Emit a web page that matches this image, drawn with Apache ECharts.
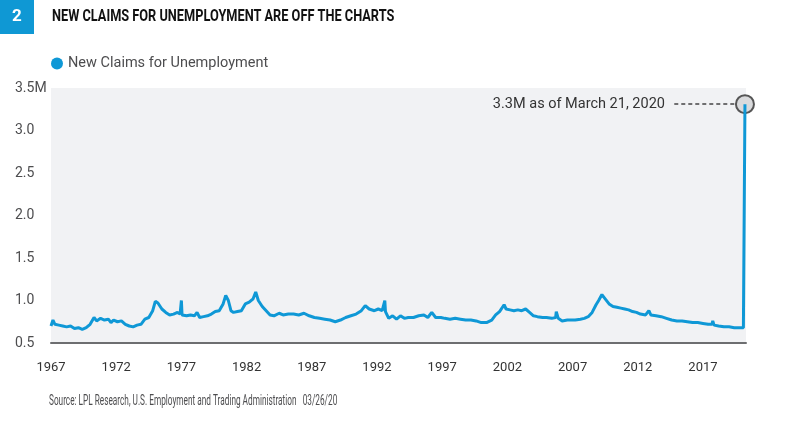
<!DOCTYPE html>
<html>
<head>
<meta charset="utf-8">
<script src="https://cdn.jsdelivr.net/npm/echarts@6/dist/echarts.min.js"></script>
<style>html,body{margin:0;padding:0;background:#fff}#c{width:788px;height:448px}</style>
</head>
<body>
<div id="c"></div>
<script>
var FONT = 'Roboto,"Liberation Sans",sans-serif';
var BASE_YEAR = 1967;
var years = [1967.0,1967.15,1967.3,1967.6,1967.9,1968.2,1968.5,1968.8,1969.1,1969.4,1969.7,1970.0,1970.3,1970.5,1970.8,1971.1,1971.4,1971.6,1971.8,1972.1,1972.4,1972.7,1973.0,1973.3,1973.6,1973.9,1974.2,1974.5,1974.8,1975.0,1975.2,1975.5,1975.8,1976.1,1976.4,1976.7,1976.9,1977.0,1977.05,1977.4,1977.7,1978.0,1978.2,1978.4,1978.7,1979.0,1979.3,1979.6,1979.9,1980.2,1980.4,1980.6,1980.8,1981.0,1981.3,1981.6,1981.9,1982.2,1982.5,1982.7,1982.9,1983.2,1983.5,1983.8,1984.1,1984.5,1984.8,1985.2,1985.6,1986.0,1986.4,1986.8,1987.2,1987.6,1988.0,1988.4,1988.8,1989.2,1989.6,1990.0,1990.4,1990.8,1991.1,1991.4,1991.8,1992.1,1992.4,1992.6,1992.65,1992.9,1993.2,1993.5,1993.8,1994.1,1994.4,1994.8,1995.2,1995.6,1995.9,1996.2,1996.5,1996.9,1997.2,1997.6,1998.0,1998.4,1998.8,1999.2,1999.6,2000.0,2000.4,2000.8,2001.1,2001.4,2001.75,2001.9,2002.2,2002.5,2002.8,2003.1,2003.4,2003.7,2004.0,2004.3,2004.7,2005.0,2005.4,2005.7,2005.75,2005.9,2006.2,2006.6,2006.9,2007.2,2007.6,2007.9,2008.2,2008.5,2008.8,2009.0,2009.25,2009.5,2009.8,2010.1,2010.4,2010.7,2011.0,2011.3,2011.6,2011.9,2012.2,2012.6,2012.85,2013.0,2013.4,2013.8,2014.2,2014.6,2015.0,2015.4,2015.8,2016.2,2016.6,2017.0,2017.4,2017.7,2017.75,2017.85,2018.2,2018.6,2019.0,2019.4,2019.8,2020.1,2020.18,2020.22];
var claims = [0.70,0.77,0.72,0.71,0.70,0.69,0.70,0.67,0.68,0.66,0.68,0.72,0.80,0.76,0.79,0.77,0.78,0.74,0.77,0.75,0.76,0.72,0.70,0.69,0.71,0.72,0.78,0.80,0.88,0.99,0.97,0.90,0.86,0.83,0.84,0.86,0.84,1.00,0.83,0.82,0.83,0.82,0.86,0.80,0.81,0.82,0.84,0.87,0.88,0.96,1.06,1.00,0.88,0.86,0.87,0.88,0.96,0.98,1.02,1.10,1.00,0.93,0.88,0.83,0.82,0.85,0.83,0.84,0.84,0.83,0.85,0.82,0.80,0.79,0.78,0.77,0.75,0.77,0.80,0.82,0.84,0.88,0.94,0.90,0.88,0.90,0.88,1.00,0.87,0.79,0.82,0.78,0.82,0.79,0.80,0.80,0.82,0.83,0.80,0.86,0.80,0.80,0.79,0.78,0.79,0.78,0.77,0.77,0.76,0.74,0.74,0.77,0.83,0.87,0.95,0.90,0.89,0.88,0.89,0.88,0.90,0.86,0.82,0.81,0.80,0.80,0.79,0.80,0.87,0.79,0.76,0.77,0.77,0.77,0.78,0.79,0.81,0.86,0.95,1.00,1.07,1.02,0.96,0.93,0.92,0.91,0.90,0.89,0.87,0.86,0.84,0.83,0.88,0.83,0.82,0.81,0.79,0.77,0.76,0.76,0.75,0.74,0.74,0.73,0.72,0.72,0.76,0.71,0.70,0.69,0.69,0.68,0.68,0.68,0.70,3.31];
var xTickYears = [1967,1972,1977,1982,1987,1992,1997,2002,2007,2012,2017];
var yTicks = [0.5,1.0,1.5,2.0,2.5,3.0,3.5];
var seriesName = 'New Claims for Unemployment';
var titleText = 'NEW CLAIMS FOR UNEMPLOYMENT ARE OFF THE CHARTS';
var sourceText = 'Source: LPL Research, U.S. Employment and Trading Administration   03/26/20';
var annotText = '3.3M as of March 21, 2020';
var annotYear = 2020.22, annotValue = 3.31, dashStartYear = 2014.8, dashEndYear = 2019.6;

var data = years.map(function(y,i){ return [y - BASE_YEAR, claims[i]]; });
var chart = echarts.init(document.getElementById('c'));
chart.setOption({
  animation: false,
  backgroundColor: '#ffffff',
  graphic: [
    {type: 'rect', left: 0, top: 0, shape: {width: 34, height: 34}, style: {fill: '#0f98d4'}},
    {type: 'text', x: 17, y: 17, style: {text: '2', fill: '#fff', font: 'bold 17px ' + FONT, align: 'center', verticalAlign: 'middle'}},
    {type: 'text', x: 52, y: 17, scaleX: 0.75, style: {text: titleText, fill: '#111', font: 'bold 17px ' + FONT, align: 'left', verticalAlign: 'middle'}},
    {type: 'text', x: 49, y: 401, scaleX: 0.55, style: {text: sourceText, fill: '#4d4d4f', font: '15px ' + FONT, align: 'left', verticalAlign: 'middle'}}
  ],
  legend: {
    data: [seriesName], left: 46, top: 51, icon: 'circle', itemWidth: 12, itemHeight: 12, itemGap: 5,
    textStyle: {fontFamily: FONT, fontSize: 14.5, color: '#4d4d4f'}
  },
  grid: {left: 51, right: 42, top: 88, bottom: 105, show: true, backgroundColor: '#f1f2f4', borderWidth: 0, containLabel: false},
  xAxis: {
    type: 'value', min: 0, max: 53.3, interval: 5,
    axisLine: {show: true, lineStyle: {color: '#6d6e70', width: 2}},
    axisTick: {show: false}, splitLine: {show: false},
    axisLabel: {margin: 18, showMaxLabel: false, fontFamily: FONT, fontSize: 13, color: '#333',
      formatter: function(v){ var y = Math.round(v + BASE_YEAR); return xTickYears.indexOf(y) >= 0 ? String(y) : ''; }}
  },
  yAxis: {
    type: 'value', min: yTicks[0], max: yTicks[yTicks.length-1], interval: 0.5,
    axisLine: {show: false}, axisTick: {show: false}, splitLine: {show: false},
    axisLabel: {margin: 36, align: 'left', fontFamily: FONT, fontSize: 14, color: '#4d4d4f',
      formatter: function(v){ return v.toFixed(1) + (v === yTicks[yTicks.length-1] ? 'M' : ''); }}
  },
  series: [{
    name: seriesName, type: 'line', data: data, showSymbol: false, symbol: 'circle', z: 3,
    lineStyle: {color: '#0f98d6', width: 3}, itemStyle: {color: '#0f98d6'},
    markPoint: {
      z: 1, silent: true, symbol: 'circle', symbolSize: 18,
      itemStyle: {color: '#d9dadc', borderColor: '#555', borderWidth: 2},
      label: {show: true, position: 'left', distance: 70, formatter: annotText, fontFamily: FONT, fontSize: 14.5, color: '#333'},
      data: [{coord: [annotYear - BASE_YEAR, annotValue]}]
    },
    markLine: {
      silent: true, symbol: 'none', label: {show: false},
      lineStyle: {color: '#444', width: 1.5, type: [4, 3]},
      data: [[{coord: [dashStartYear - BASE_YEAR, annotValue]}, {coord: [dashEndYear - BASE_YEAR, annotValue]}]]
    }
  }]
});
</script>
</body>
</html>
